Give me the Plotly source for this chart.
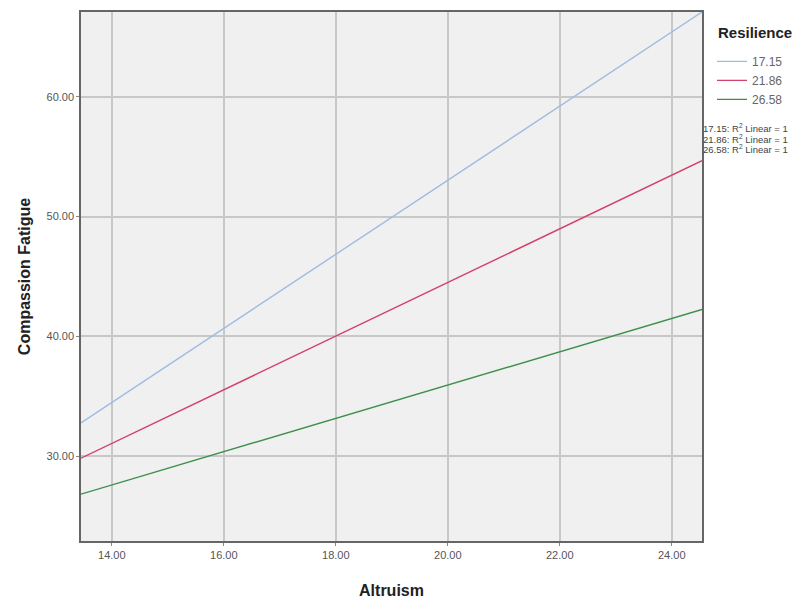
import plotly.graph_objects as go

# Data (line endpoints at the axis limits)
altruism = [13.45, 24.54]
resilience_levels = ["17.15", "21.86", "26.58"]
fatigue_1715 = [32.78, 67.08]
fatigue_2186 = [29.83, 54.67]
fatigue_2658 = [26.83, 42.25]
x_ticks = [14, 16, 18, 20, 22, 24]
y_ticks = [30, 40, 50, 60]

series = [fatigue_1715, fatigue_2186, fatigue_2658]
colors = ["#9dbde0", "#d2416a", "#3f8f4c"]

# page body has an 8px margin; figure is offset accordingly
OFF = 8
L, T, PW, PH = 81 - OFF, 10 - OFF, 621, 531
W, H = 812 - OFF, 601 - OFF

fig = go.Figure()
for name, vals, col in zip(resilience_levels, series, colors):
    fig.add_trace(go.Scatter(x=altruism, y=vals, mode="lines", name=name,
                             line=dict(color=col, width=1.4)))

font_fam = "Liberation Sans, Arial, sans-serif"
fig.update_layout(
    width=W, height=H,
    margin=dict(l=L, r=W - L - PW, t=T, b=H - T - PH),
    paper_bgcolor="white", plot_bgcolor="#f0f0f0",
    font=dict(family=font_fam, color="#444"),
    showlegend=True,
    legend=dict(
        x=(712 - 81) / PW, y=(541 - 45) / PH, xanchor="left", yanchor="top",
        font=dict(size=12, color="#666"),
        tracegroupgap=0, itemwidth=30, bgcolor="rgba(0,0,0,0)",
    ),
    xaxis=dict(
        range=[13.45, 24.54], tickvals=x_ticks,
        ticktext=[f"{v:.2f}" for v in x_ticks],
        showgrid=True, gridcolor="#c8c8c8", gridwidth=1.5,
        showline=True, linecolor="#666", linewidth=1.5, mirror=True,
        ticks="outside", ticklen=3, tickcolor="#888",
        tickfont=dict(size=11, color="#555"), zeroline=False,
        title=dict(text="<b>Altruism</b>", font=dict(size=16, color="#222"), standoff=25),
    ),
    yaxis=dict(
        range=[22.92, 67.08], tickvals=y_ticks,
        ticktext=[f"{v:.2f}" for v in y_ticks],
        showgrid=True, gridcolor="#c8c8c8", gridwidth=1.5,
        showline=True, linecolor="#666", linewidth=1.5, mirror=True,
        ticks="outside", ticklen=3, tickcolor="#888",
        tickfont=dict(size=11, color="#555"), zeroline=False,
        title=dict(text="<b>Compassion Fatigue</b>", font=dict(size=16, color="#222"), standoff=12),
    ),
)

# legend title
fig.add_annotation(
    xref="paper", yref="paper", x=(755 - 81) / PW, y=(541 - 31) / PH,
    xanchor="center", yanchor="middle", showarrow=False,
    text="<b>Resilience</b>", font=dict(size=15, color="#222", family=font_fam),
)

ann_y = [126, 137, 148]
for lvl, yp in zip(resilience_levels, ann_y):
    fig.add_annotation(
        xref="paper", yref="paper",
        x=(701 - 81) / PW, y=(541 - yp) / PH,
        xanchor="left", yanchor="middle", showarrow=False,
        text=f"{lvl}: R<sup>2</sup> Linear = 1",
        font=dict(size=9.5, color="#444", family=font_fam),
    )

fig.write_html("out.html")
